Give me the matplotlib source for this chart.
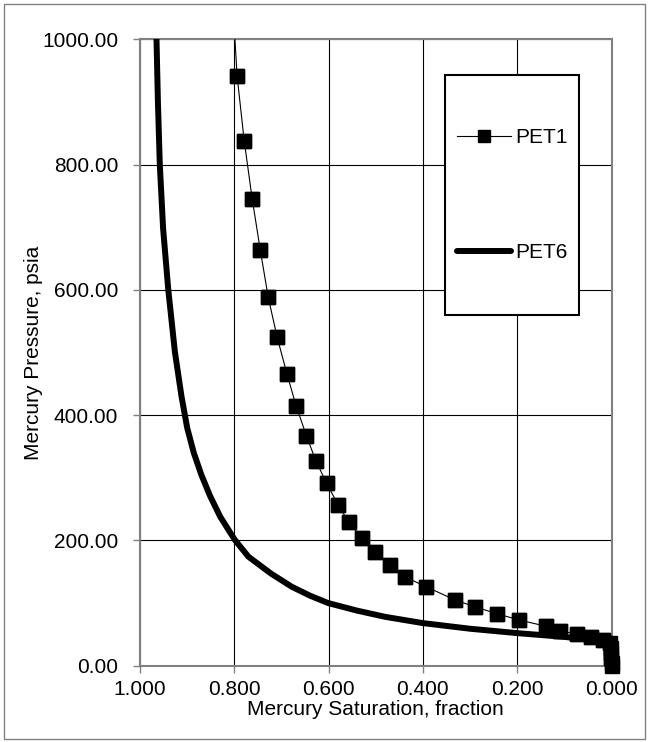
import matplotlib
matplotlib.use('Agg')
import matplotlib.pyplot as plt
from matplotlib.patches import Rectangle
from matplotlib.ticker import FixedLocator, FormatStrFormatter

plt.rcParams['font.family'] = ['Liberation Sans', 'DejaVu Sans']

# ---- data ----
pet1_sat = [0.805, 0.794, 0.779, 0.762, 0.745, 0.728, 0.709, 0.688, 0.669, 0.647,
            0.627, 0.604, 0.580, 0.557, 0.530, 0.502, 0.470, 0.439, 0.393, 0.332,
            0.290, 0.243, 0.196, 0.139, 0.109, 0.073, 0.043, 0.018, 0.003, 0.002,
            0.001, 0.001, 0.000, 0.000]
pet1_p = [1080, 941, 838, 745, 664, 588, 524, 465, 415, 367,
          327, 291, 257, 229, 204, 181, 161, 142, 126, 105,
          94, 83, 73, 63, 55, 51, 46, 41, 36, 28,
          20, 12, 5, 0]

pet6_sat = [0.967, 0.965, 0.962, 0.958, 0.951, 0.940, 0.926, 0.912, 0.900, 0.886,
            0.870, 0.852, 0.830, 0.799, 0.770, 0.722, 0.678, 0.640, 0.601, 0.540,
            0.480, 0.400, 0.300, 0.200, 0.100, 0.040, 0.003, 0.000]
pet6_p = [1050, 1000, 900, 800, 698, 600, 501, 430, 380, 340,
          305, 272, 238, 201, 174, 147, 126, 112, 100, 88,
          78, 68, 59, 52, 46, 41, 36, 0]

x_ticks = [1.0, 0.8, 0.6, 0.4, 0.2, 0.0]
y_ticks = [0, 200, 400, 600, 800, 1000]
x_label = 'Mercury Saturation, fraction'
y_label = 'Mercury Pressure, psia'

FS = 15
W, H = 648, 742
fig = plt.figure(figsize=(W / 100, H / 100), dpi=100)
ax = fig.add_axes([140 / W, 1 - 665.7 / H, 471.5 / W, 626.4 / H])

l6, = ax.plot(pet6_sat, pet6_p, color='black', lw=4.3, solid_capstyle='round',
              solid_joinstyle='round', zorder=3, label='PET6')
l1, = ax.plot(pet1_sat, pet1_p, color='black', lw=0.8, marker='s', ms=10.5,
              mfc='black', mec='black', zorder=4, label='PET1')
# markers inside the value range are drawn unclipped (like the reference)
in_x = [s for s, p in zip(pet1_sat, pet1_p) if p <= 1000]
in_y = [p for p in pet1_p if p <= 1000]
ax.plot(in_x, in_y, linestyle='none', marker='s', ms=10.5, mfc='black',
        mec='black', zorder=4, clip_on=False)

ax.set_xlim(1.0, 0.0)
ax.set_ylim(0, 1000)
ax.xaxis.set_major_locator(FixedLocator(x_ticks))
ax.yaxis.set_major_locator(FixedLocator(y_ticks))
ax.xaxis.set_major_formatter(FormatStrFormatter('%.3f'))
ax.yaxis.set_major_formatter(FormatStrFormatter('%.2f'))
ax.grid(True, color='black', lw=0.8, zorder=1)
ax.set_axisbelow(True)
for sp in ax.spines.values():
    sp.set_color('#808080')
    sp.set_linewidth(1.5)
ax.tick_params(direction='out', length=5, width=1, color='#808080',
               labelsize=FS, labelcolor='black')
ax.tick_params(axis='y', pad=10.8)
ax.tick_params(axis='x', pad=5.5)

ax.set_xlabel(x_label, fontsize=FS, va='top')
ax.set_ylabel(y_label, fontsize=FS)
ax.xaxis.set_label_coords(0.5, -0.055)
ax.yaxis.set_label_coords(-0.205, 0.5)

# legend frame
fig.patches.append(Rectangle((445 / W, 1 - 315 / H), 134 / W, 240 / H,
                             transform=fig.transFigure, facecolor='white',
                             edgecolor='black', lw=1.5, zorder=5))
fig.legend(handles=[l1, l6], labels=['PET1', 'PET6'], loc='center',
           bbox_to_anchor=(512 / W, 1 - 195 / H), frameon=False, fontsize=FS,
           handlelength=2.6, handletextpad=0.2, labelspacing=4.6,
           markerscale=0.8).set_zorder(6)

# outer border
fig.patches.append(Rectangle((3.5 / W, 3.5 / H), 641 / W, 735 / H,
                             transform=fig.transFigure, fill=False,
                             edgecolor='#808080', lw=1, zorder=0))

fig.savefig('out.png', dpi=100)
